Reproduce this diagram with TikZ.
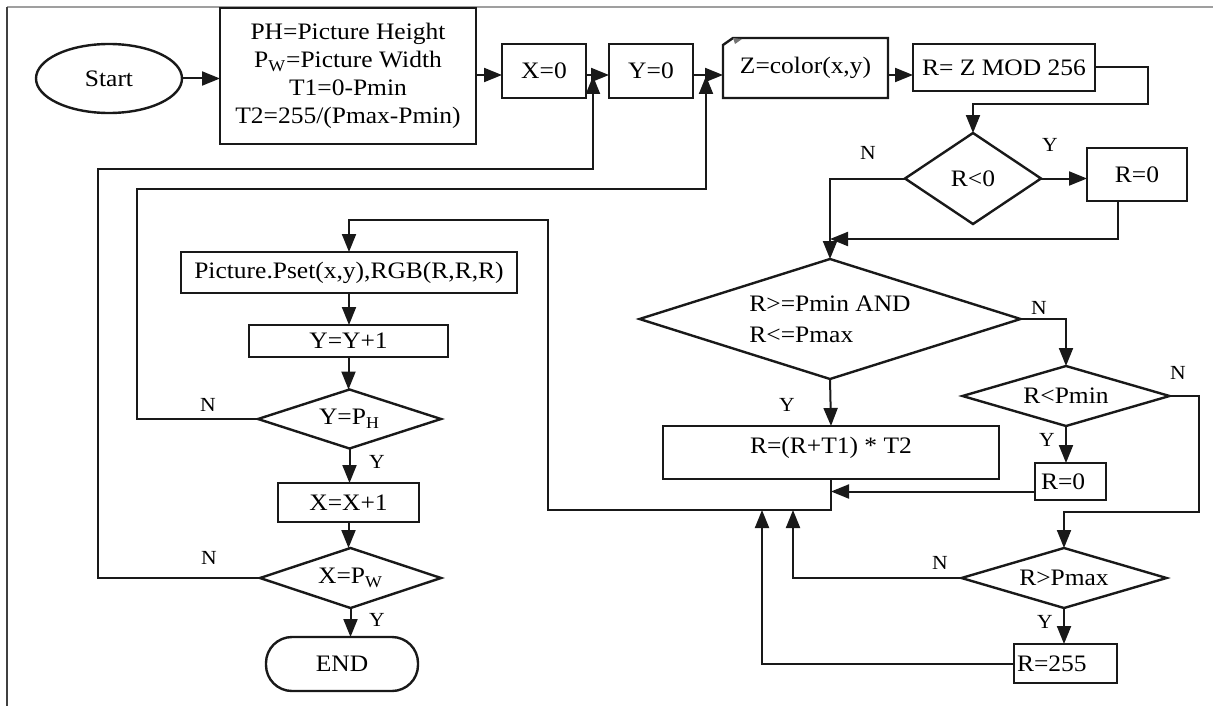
\documentclass[tikz,border=0pt]{standalone}
\usepackage{fontspec}
\setmainfont[FakeStretch=1.08]{Liberation Serif}
\usetikzlibrary{arrows.meta,calc,shapes.geometric}

\newcommand\mainsz{\fontsize{11.8pt}{14pt}\selectfont}
\newcommand\labsz{\fontsize{10pt}{12pt}\selectfont}

\tikzset{
  ink/.style={draw=black!90, line width=1.2pt},
  box/.style={ink, rectangle, inner sep=0pt, outer sep=0pt, font=\mainsz},
  decision/.style={rectangle, inner sep=0pt, outer sep=0pt, font=\mainsz},
  flow/.style={draw=black!90, line width=1pt, -{Triangle[length=9pt,width=7pt]}},
  yn/.style={font=\labsz, inner sep=0pt},
}

\begin{document}
\begin{tikzpicture}[x=0.5pt,y=-0.5pt]
\useasboundingbox (0,0) rectangle (1213,706);

% page frame
\draw[gray!75, line width=1pt] (7,7) -- (1213,7);
\draw[black!75, line width=1pt] (7,7) -- (7,706);

% ---- top row ----
\node[ellipse, ink, minimum width=73pt, minimum height=34.5pt, inner sep=0pt, font=\mainsz] (start) at (109,78.5) {Start};
\node[box, minimum width=128pt, minimum height=68pt, align=center] (init) at (348,76)
  {PH=Picture Height\\P\textsubscript{W}=Picture Width\\T1=0-Pmin\\T2=255/(Pmax-Pmin)};
\node[box, minimum width=42pt, minimum height=27pt] (x0) at (544,71) {X=0};
\node[box, minimum width=42pt, minimum height=27pt] (y0) at (651,71) {Y=0};
\node[decision, minimum width=82.5pt, minimum height=30pt] (zbox) at (805.5,68) {Z=color(x,y)};
\draw[ink] ($(zbox.north west)+(0,7)$) -- ($(zbox.north west)+(10,0)$) -- (zbox.north east)
  -- (zbox.south east) -- (zbox.south west) -- cycle;
\fill[black!55] ($(zbox.north west)+(10,0)$) -- ($(zbox.north west)+(19,1)$) -- ($(zbox.north west)+(12,6)$) -- cycle;
\node[box, minimum width=91pt, minimum height=23.5pt] (rmod) at (1004,67.5) {R= Z MOD 256};

% ---- right column ----
\node[decision, minimum width=68pt, minimum height=45.5pt] (d1) at (973,178.5) {R<0};
\node[box, minimum width=50pt, minimum height=26.5pt] (rz1) at (1137,174.5) {R=0};
\node[decision, minimum width=190.5pt, minimum height=60pt, align=left] (d2) at (830,319)
  {R>=Pmin AND\\[1.5pt]R<=Pmax};
\node[decision, minimum width=103.5pt, minimum height=30pt] (d3) at (1066,396) {R<Pmin};
\node[box, minimum height=18.5pt, inner xsep=3pt, text width=29.5pt, align=left] (rz2) at (1070.5,481.5) {R=0};
\node[decision, minimum width=102.5pt, minimum height=30pt] (d4) at (1064,578) {R>Pmax};
\node[box, minimum height=19.5pt, inner xsep=1.5pt, text width=48.5pt, align=left] (r255) at (1065.5,663.5) {R=255};
\node[box, minimum width=168pt, minimum height=26.5pt, text height=8pt, text depth=7.5pt] (calc) at (831,452.5) {R=(R+T1) * T2};

% ---- left column ----
\node[box, minimum width=168pt, minimum height=20.5pt] (pset) at (349,272.5) {Picture.Pset(x,y),RGB(R,R,R)};
\node[box, minimum width=99.5pt, minimum height=16pt] (yinc) at (348.5,341) {Y=Y+1};
\node[decision, minimum width=91.5pt, minimum height=29.5pt] (d5) at (349.5,419) {Y=P\textsubscript{H}};
\node[box, minimum width=70.5pt, minimum height=19.5pt] (xinc) at (348.5,502.5) {X=X+1};
\node[decision, minimum width=90.5pt, minimum height=30pt] (d6) at (350.5,578) {X=P\textsubscript{W}};
\node[box, rounded corners=13pt, minimum width=76pt, minimum height=27pt] (endn) at (342,664) {END};

% diamond outlines
\foreach \d in {d1,d2,d3,d4,d5,d6}
  \draw[ink] (\d.north) -- (\d.east) -- (\d.south) -- (\d.west) -- cycle;

% routing points
\coordinate (row) at (0,75);
\coordinate (xcol) at (98,169);
\coordinate (xjoin) at (593,76);
\coordinate (ycol) at (137,189);
\coordinate (yjoin) at (706,76);
\coordinate (bus) at (548,510);
\coordinate (bustop) at (548,220);
\coordinate (in1) at (762,510);
\coordinate (in2) at (793,510);
\coordinate (rz2out) at ($(rz2.west)+(0,10)$);

% ---- connectors ----
\draw[flow] (start.east) -- (start.east -| init.west);
\draw[flow] (init.east |- row) -- (x0.west |- row);
\draw[flow] (x0.east |- row) -- (y0.west |- row);
\draw[flow] (y0.east |- row) -- (zbox.west |- row);
\draw[flow] (zbox.east |- row) -- (rmod.west |- row);
\draw[flow] (rmod.east) -- ++(53,0) |- ($(d1.north)+(0,-29)$) -- (d1.north);
\draw[flow] (d1.east) -- (d1.east -| rz1.west);
\draw[flow] (d1.west) -| (d2.north);
\draw[flow] ($(rz1.south)+(-19,0)$) |- ($(d2.north)+(0,-20)$);
\draw[flow] (d2.east) -| (d3.north);
\draw[flow] (d2.south) -- (calc.north);
\draw[flow] (d3.south) -- (d3.south |- rz2.north);
\draw[flow] (d3.east) -- ++(29,0) |- ($(d4.north)+(0,-36)$) -- (d4.north);
\draw[flow] (rz2out) -- (rz2out -| calc.south);
\draw[flow] (calc.south) |- (bus) |- (pset.north |- bustop) -- (pset.north);
\draw[flow] (r255.west) -| (in1);
\draw[flow] (d4.west) -| (in2);
\draw[flow] (d4.south) -- (d4.south |- r255.north);
\draw[flow] (pset.south) -- (pset.south |- yinc.north);
\draw[flow] (yinc.south) -- (yinc.south |- d5.north);
\draw[flow] (d5.south) -- (d5.south |- xinc.north);
\draw[flow] (xinc.south) -- (xinc.south |- d6.north);
\draw[flow] (d6.south) -- (d6.south |- endn.north);
\draw[flow] (d5.west) -| (ycol) -| (yjoin);
\draw[flow] (d6.west) -| (xcol) -| (xjoin);

% ---- branch labels ----
\node[yn] (n1) at (868,153) {N};
\node[yn] (y1) at (1050,145) {Y};
\node[yn] (n2) at (1039,308) {N};
\node[yn] (y2) at (787,405) {Y};
\node[yn] (n3) at (1178,373) {N};
\node[yn] (y3) at (1047,440) {Y};
\node[yn] (n4) at (940,563) {N};
\node[yn] (y4) at (1045,622) {Y};
\node[yn] (n5) at (208,405) {N};
\node[yn] (y5) at (377,462) {Y};
\node[yn] (n6) at (209,558) {N};
\node[yn] (y6) at (377,620) {Y};
\end{tikzpicture}
\end{document}
